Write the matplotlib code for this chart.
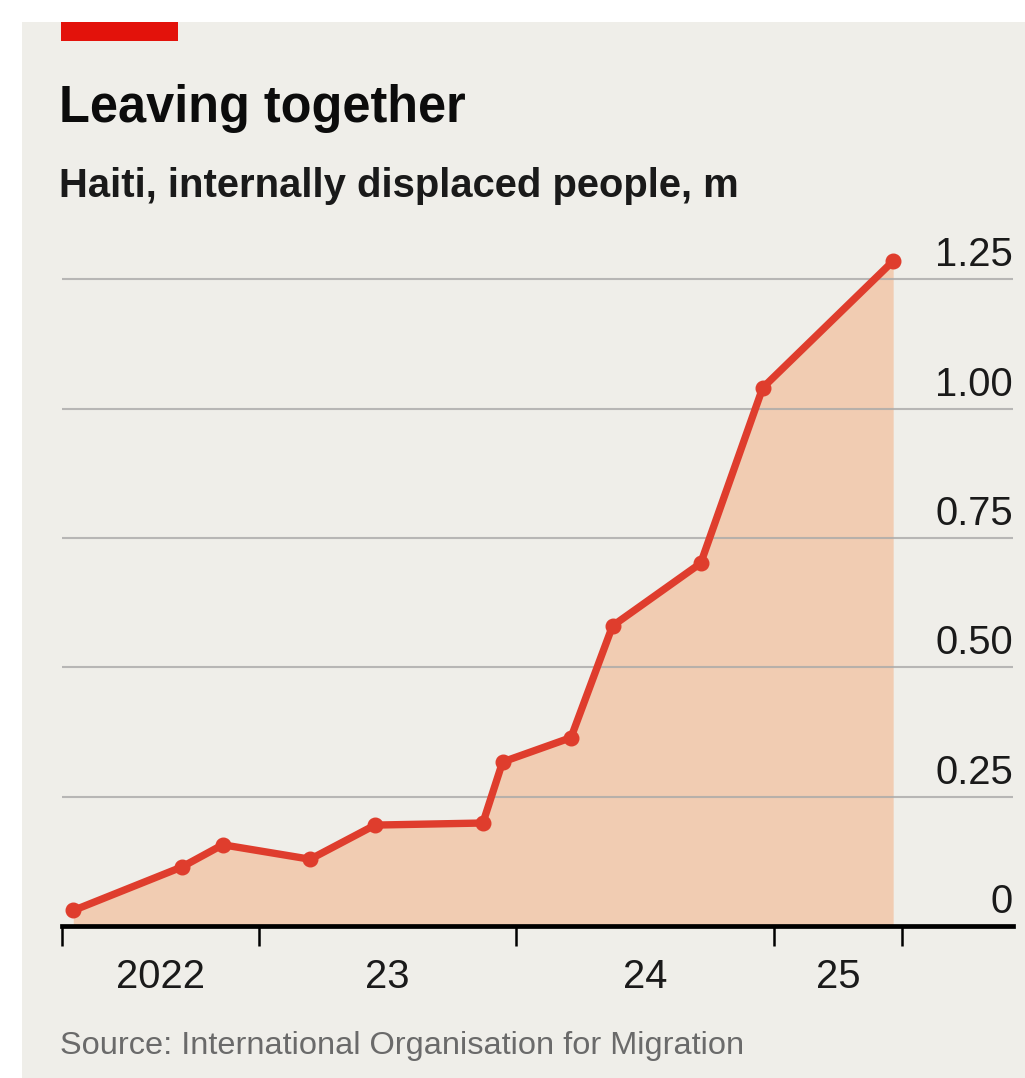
import numpy as np
import pandas as pd
import matplotlib
matplotlib.use('Agg')
import matplotlib.pyplot as plt
import matplotlib.dates as mdates
import matplotlib.transforms as mtransforms
from matplotlib.patches import Rectangle

# Haiti IDPs (millions), IOM displacement tracking rounds
dates = ['2022-04-13', '2022-09-14', '2022-11-11', '2023-03-15', '2023-06-15',
         '2023-11-15', '2023-12-13', '2024-03-19', '2024-05-17', '2024-09-19',
         '2024-12-16', '2025-06-19']
idps = [0.03, 0.114, 0.157, 0.129, 0.195, 0.199, 0.317, 0.364, 0.58, 0.701,
        1.04, 1.285]

y_ticks = [0, 0.25, 0.5, 0.75, 1.0, 1.25]
y_labels = ['0', '0.25', '0.50', '0.75', '1.00', '1.25']
x_edges = ['2022-03-28', '2023-01-01', '2024-01-01', '2025-01-01', '2025-07-01']
x_labels = ['2022', '23', '24', '25']
x_end = '2025-12-06'

BG = '#efeee9'
RED = '#df3d2d'
FILL = '#f1ccb2'
W, H = 1025, 1078

plt.rcParams['font.family'] = ['Liberation Sans', 'DejaVu Sans']

fig = plt.figure(figsize=(W / 100, H / 100), dpi=100, facecolor='white')
fig.patches.append(Rectangle((22 / W, 0), 1 - 22 / W, 1 - 22 / H,
                             transform=fig.transFigure, facecolor=BG,
                             edgecolor='none', zorder=-10))
fig.patches.append(Rectangle((61 / W, 1 - 41 / H), 117 / W, 19 / H,
                             transform=fig.transFigure, facecolor='#e3120b',
                             edgecolor='none', zorder=-9))

fig.text(59 / W, 1 - 122 / H, 'Leaving together', fontsize=36.4,
         fontweight='bold', va='baseline', color='#0c0c0c')
fig.text(59 / W, 1 - 197 / H, 'Haiti, internally displaced people, m',
         fontsize=28.8, fontweight='bold', va='baseline', color='#1a1a1a')
fig.text(60 / W, 1 - 1054 / H, 'Source: International Organisation for Migration',
         fontsize=23.4, va='baseline', color='#6a6a6a')

# axes: left 62px, right 1013px, zero line at 926px, 517.5px per unit
ax = fig.add_axes([62 / W, 1 - 926 / H, 951 / W, 686 / H])
ax.set_facecolor('none')
ax.set_ylim(0, 686 / 517.5)

x = mdates.date2num(pd.to_datetime(dates))
edges = mdates.date2num(pd.to_datetime(x_edges))
ax.set_xlim(edges[0], mdates.date2num(pd.Timestamp(x_end)))

ax.fill_between(x, idps, 0, color=FILL, lw=0, zorder=1)
for v in y_ticks[1:]:
    ax.axhline(v, color='#a9a9a9', lw=1.5, alpha=0.8, zorder=2)
ax.axhline(0, color='black', lw=3.4, zorder=4, clip_on=False)
ax.plot(x, idps, color=RED, lw=5.3, marker='o', ms=10.5, zorder=5, clip_on=False)

for spine in ax.spines.values():
    spine.set_visible(False)

ax.set_yticks([])
lab_tr = mtransforms.offset_copy(ax.get_yaxis_transform(), fig=fig, y=13, units='dots')
for v, lab in zip(y_ticks, y_labels):
    ax.text(1.0, v, lab, transform=lab_tr, ha='right', va='baseline',
            fontsize=28.8, color='#1a1a1a')

ax.set_xticks(edges)
ax.set_xticklabels([])
ax.tick_params(axis='x', which='major', length=14.4, width=1.8, color='black')
mids = (edges[:-1] + edges[1:]) / 2
ax.set_xticks(mids, minor=True)
ax.set_xticklabels(x_labels, minor=True)
ax.tick_params(axis='x', which='minor', length=0, pad=23, labelsize=28.8,
               labelcolor='#1a1a1a')

fig.savefig('out.png', dpi=100, facecolor=fig.get_facecolor())
